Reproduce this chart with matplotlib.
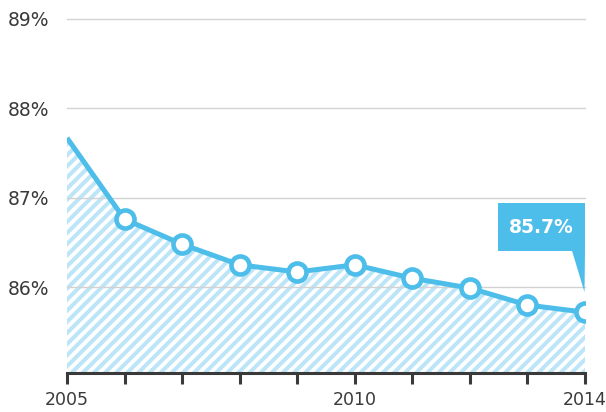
import matplotlib
matplotlib.use("Agg")
import matplotlib.pyplot as plt
import matplotlib.transforms as mtransforms
from matplotlib.patches import Polygon

# data
years = [2005, 2006, 2007, 2008, 2009, 2010, 2011, 2012, 2013, 2014]
values = [87.67, 86.76, 86.48, 86.25, 86.17, 86.25, 86.10, 85.99, 85.80, 85.72]
y_ticks = [86, 87, 88, 89]
y_labels = ["86%", "87%", "88%", "89%"]
x_labels = ["2005", "", "", "", "", "2010", "", "", "", "2014"]
callout_text = "85.7%"

blue = "#4dbde9"
hatch_blue = "#bde5f8"
dark = "#3a3a3a"

plt.rcParams["font.family"] = ["DejaVu Sans"]
plt.rcParams["hatch.linewidth"] = 2.9
plt.rcParams["hatch.color"] = hatch_blue

fig = plt.figure(figsize=(6.06, 4.12), dpi=100)
ax = fig.add_axes([67 / 606, 39 / 412, 518 / 606, 354 / 412])
ax.set_xlim(2005, 2014)
ax.set_ylim(85.04, 89)

# grid
for t in y_ticks:
    ax.axhline(t, color="#d2d2d2", lw=1, zorder=1, clip_on=False)

# hatched area
ax.fill_between(years, values, 85.04, facecolor="white", edgecolor=hatch_blue,
                hatch="///", lw=0, zorder=0)

# line + markers
ax.plot(years, values, color=blue, lw=3.6, zorder=3, solid_capstyle="butt")
ax.plot(years[1:], values[1:], ls="none", marker="o", ms=13, mfc="white",
        mec=blue, mew=3.3, zorder=4)

# axes styling
for s in ["top", "right", "left"]:
    ax.spines[s].set_visible(False)
ax.spines["bottom"].set_color(dark)
ax.spines["bottom"].set_linewidth(2.2)
ax.set_xticks(years)
ax.set_xticklabels(x_labels)
ax.tick_params(axis="x", direction="out", length=8, width=2.2, color=dark,
               labelsize=12.5, labelcolor=dark, pad=5)
ax.set_yticks(y_ticks)
ax.set_yticklabels(y_labels)
ax.tick_params(axis="y", length=0, labelsize=13.5, labelcolor=dark, pad=13)

# callout on last point (offsets in pixels / 100 = inches)
tr = fig.dpi_scale_trans + mtransforms.ScaledTranslation(years[-1], values[-1], ax.transData)
box = Polygon([(-0.87, 0.61), (0, 0.61), (0, 1.09), (-0.87, 1.09)], closed=True,
              facecolor=blue, edgecolor="none", transform=tr, clip_on=False, zorder=5)
tip = Polygon([(-0.13, 0.615), (0, 0.615), (-0.005, 0.20)], closed=True,
              facecolor=blue, edgecolor="none", transform=tr, clip_on=False, zorder=5)
ax.add_patch(box)
ax.add_patch(tip)
ax.text(-0.435, 0.85, callout_text, transform=tr, ha="center", va="center",
        color="white", fontsize=13.5, fontweight="bold", zorder=6)

fig.savefig("out.png", dpi=100)
